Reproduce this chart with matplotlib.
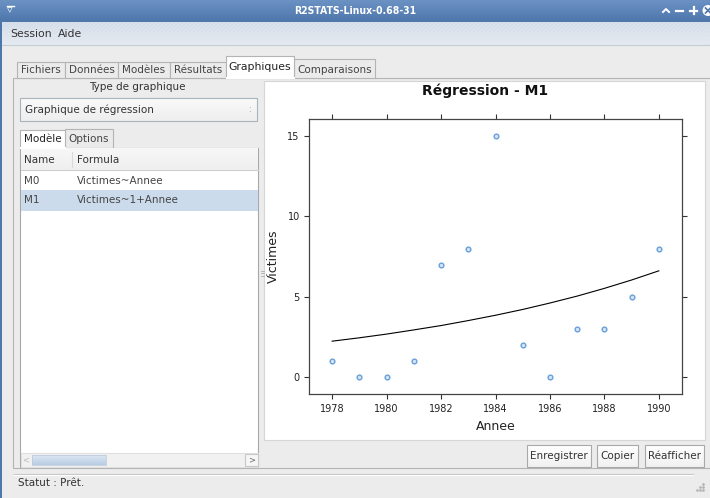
import numpy as np
import matplotlib
matplotlib.use("Agg")
import matplotlib.pyplot as plt
from matplotlib.patches import Rectangle, Circle
from matplotlib import font_manager as fm

# ======================= Données =======================
annee = [1978, 1979, 1980, 1981, 1982, 1983, 1984, 1985, 1986, 1987, 1988, 1989, 1990]
victimes = [1, 0, 0, 1, 7, 8, 15, 2, 0, 3, 3, 5, 8]
# valeurs ajustées du modèle M1
ajuste = [2.25, 2.46, 2.69, 2.95, 3.22, 3.53, 3.86, 4.22, 4.62, 5.05, 5.53, 6.05, 6.62]
x_ticks = [1978, 1980, 1982, 1984, 1986, 1988, 1990]
y_ticks = [0, 5, 10, 15]

onglets = ["Fichiers", "Données", "Modèles", "Résultats", "Graphiques", "Comparaisons"]
onglets_x = [17, 65, 118, 170, 226, 294, 375]
modeles = ["M0", "M1"]
formules = ["Victimes~Annee", "Victimes~1+Annee"]
boutons = ["Enregistrer", "Copier", "Réafficher"]
boutons_x = [(527, 591), (597, 638), (645, 704)]
# =======================================================

W, H = 710, 498
GUI = "#333333"
FS = 7.5

cond = any("Condensed" in f.fname for f in fm.fontManager.ttflist if f.name == "DejaVu Sans")
stretch = "condensed" if cond else "normal"

fig = plt.figure(figsize=(W / 100, H / 100), dpi=100)
bg = fig.add_axes([0, 0, 1, 1])
bg.set_xlim(0, W)
bg.set_ylim(H, 0)
bg.axis("off")


def rect(x0, y0, x1, y1, fc, ec="none", lw=0.8, z=1):
    bg.add_patch(Rectangle((x0, y0), x1 - x0, y1 - y0, fc=fc, ec=ec, lw=lw, zorder=z))


def grad(x0, y0, x1, y1, c_top, c_bot, z=1):
    c1 = np.array(matplotlib.colors.to_rgb(c_top))
    c2 = np.array(matplotlib.colors.to_rgb(c_bot))
    t = np.linspace(0, 1, 32)[:, None]
    img = (c1 * (1 - t) + c2 * t)[:, None, :]
    bg.imshow(img, extent=(x0, x1, y1, y0), aspect="auto", zorder=z, interpolation="bilinear")


def txt(x, y, s, ha="left", size=FS, color=GUI, **kw):
    bg.text(x, y, s, ha=ha, va="center", fontsize=size, color=color, zorder=10, **kw)


# fond de la fenêtre
rect(0, 0, W, H, "#ececec", z=0)

# barre de titre
grad(0, 0, W, 22, "#6c92c4", "#4d76ab", z=1)
txt(355, 10.5, "R2STATS-Linux-0.68-31", ha="center", size=7.5, color="white",
    fontweight="bold", fontstretch=stretch)
txt(10, 10, "\u25bf", ha="center", size=8, color="white")
bg.plot([6.5, 13.5], [6, 6], color="white", lw=1, zorder=10)
bg.plot([663, 666, 669], [12, 9, 12], color="white", lw=1.4, zorder=10)
bg.plot([676, 683], [10.5, 10.5], color="white", lw=1.6, zorder=10)
bg.plot([690, 697], [10.5, 10.5], color="white", lw=1.6, zorder=10)
bg.plot([693.5, 693.5], [7, 14], color="white", lw=1.6, zorder=10)
bg.add_patch(Circle((708, 10.5), 5.5, fc="white", ec="none", zorder=9))
bg.plot([705.5, 710.5], [8, 13], color="#4d76ab", lw=1.2, zorder=10)
bg.plot([705.5, 710.5], [13, 8], color="#4d76ab", lw=1.2, zorder=10)

# barre de menu
grad(0, 22, W, 45, "#d3dde9", "#e3e9f0", z=1)
for k in range(-30, W + 30, 4):
    bg.plot([k, k + 23], [45, 22], color="white", lw=0.5, alpha=0.25, zorder=2)
bg.plot([0, W], [45, 45], color="#c4ccd6", lw=0.8, zorder=3)
txt(10, 34, "Session", size=FS + 0.3)
txt(58, 34, "Aide", size=FS + 0.3)

# bord gauche bleu
rect(0, 22, 1.8, H, "#4d76ab", z=4)

# panneau des onglets
rect(13, 77.5, W + 5, 468, "#ececec", ec="#b4b4b4", z=2)
for i, nom in enumerate(onglets):
    x0, x1 = onglets_x[i], onglets_x[i + 1]
    if nom == "Graphiques":
        rect(x0, 56, x1, 78, "white", ec="#b4b4b4", z=4)
        bg.plot([x0 + 0.5, x1 - 0.5], [77.9, 77.9], color="white", lw=1.5, zorder=5)
        txt((x0 + x1) / 2, 67, nom, ha="center", size=FS + 0.3, color="#222222")
    else:
        top = 59 if nom == "Comparaisons" else 62
        rect(x0, top, x1, 77.5, "#ebebeb", ec="#b4b4b4", z=3)
        txt((x0 + x1) / 2, 69.5, nom, ha="center", color="#444444")

# partie gauche
txt(137, 87, "Type de graphique", ha="center")
grad(20, 98, 257, 121, "#fafafa", "#eeeeee", z=3)
rect(20, 98, 257, 121, "none", ec="#a9b3bd", z=4)
txt(25, 109.5, "Graphique de régression")
txt(249, 109.5, ":", ha="center", size=5.5, color="#888888")

rect(65, 128.5, 113, 148, "#eaeaea", ec="#b4b4b4", z=3)
txt(89, 138.5, "Options", ha="center", color="#444444")
rect(20, 130, 65, 148.5, "white", ec="#b4b4b4", z=4)
txt(42.5, 139, "Modèle", ha="center", color="#222222")

rect(20, 148, 258, 467, "white", ec="#a8a8a8", z=3)
bg.plot([20.5, 64.5], [148, 148], color="white", lw=1.5, zorder=5)
grad(20.5, 148.5, 257.5, 170, "#f7f7f7", "#efefef", z=4)
bg.plot([20.5, 257.5], [170, 170], color="#cfcfcf", lw=0.8, zorder=5)
bg.plot([72, 72], [152, 167], color="#dadada", lw=0.8, zorder=5)
txt(24, 160, "Name")
txt(77, 160, "Formula")
rect(20.5, 190, 257.5, 211, "#cbdbeb", z=4)
for j, (m, f) in enumerate(zip(modeles, formules)):
    yy = 180.5 + 19.5 * j
    txt(24, yy, m, color="#444444")
    txt(77, yy, f, color="#444444")

# barre de défilement
rect(20.5, 453, 257.5, 466.5, "#f1f1f1", ec="#e0e0e0", z=4)
grad(32, 455, 106, 465, "#dce7f2", "#b9cde3", z=5)
rect(32, 455, 106, 465, "none", ec="#b8c8da", lw=0.5, z=6)
txt(26, 460, "<", ha="center", size=6, color="#bbbbbb")
rect(245, 454, 257.5, 466, "#f6f6f6", ec="#c8c8c8", z=6)
txt(251.2, 460, ">", ha="center", size=6, color="#666666")

# poignée du séparateur
for yy in (270.5, 273, 275.5):
    bg.plot([261, 263.5], [yy, yy], color="#aaaaaa", lw=0.6, zorder=5)

# zone graphique
rect(264, 81, 705, 440, "white", ec="#d6d6d6", z=3)

# boutons
for nom, (x0, x1) in zip(boutons, boutons_x):
    grad(x0, 445, x1, 467, "#ffffff", "#f1f1f1", z=4)
    rect(x0, 445, x1, 467, "none", ec="#a9a9a9", z=5)
    txt((x0 + x1) / 2, 456, nom, ha="center", color="#333333")

# barre de statut
bg.plot([14, 693], [473.5, 473.5], color="#c4c4c4", lw=0.8, zorder=3)
bg.plot([14, 693], [474.5, 474.5], color="white", lw=0.8, zorder=3)
txt(18, 482.5, "Statut : Prêt.")
for dx, dy in [(0, 0), (-3, 0), (0, -3), (-6, 0), (-3, -3), (0, -6)]:
    bg.plot(703 + dx, 490 + dy, "s", ms=0.8, color="#b0b0b0", zorder=5)

# ======================= Graphique =======================
L, R, T, B = 309.3, 681.7, 119.0, 394.3
ax = fig.add_axes([L / W, 1 - B / H, (R - L) / W, (B - T) / H])
ax.plot(annee, ajuste, color="black", lw=0.8, zorder=2)
ax.plot(annee, victimes, "o", ms=3.4, mfc="#d6e5f5", mec="#6a9fd8", mew=1.0, zorder=3)

ax.set_xlim(1977.16, 1990.84)
ax.set_ylim(-1.05, 16.05)
ax.set_xticks(x_ticks)
ax.set_yticks(y_ticks)
ax.tick_params(direction="out", length=3.4, width=0.8, color="#333333",
               labelsize=7, labelcolor="#222222", pad=3.5,
               top=True, right=True, labeltop=False, labelright=False)
for s in ax.spines.values():
    s.set_color("#444444")
    s.set_linewidth(0.9)

ax.set_xlabel("Annee", fontsize=9, color="#222222")
ax.set_ylabel("Victimes", fontsize=9, color="#222222")
ax.xaxis.label.set_va("center")
ax.yaxis.label.set_va("center")
ax.xaxis.set_label_coords(0.5, (B - 426) / (B - T))
ax.yaxis.set_label_coords((273 - L) / (R - L), 0.5)

fig.text(485 / W, 1 - 91 / H, "Régression - M1", ha="center", va="center",
         fontsize=10, fontweight="bold", color="#111111")

fig.savefig("out.png", dpi=100)
